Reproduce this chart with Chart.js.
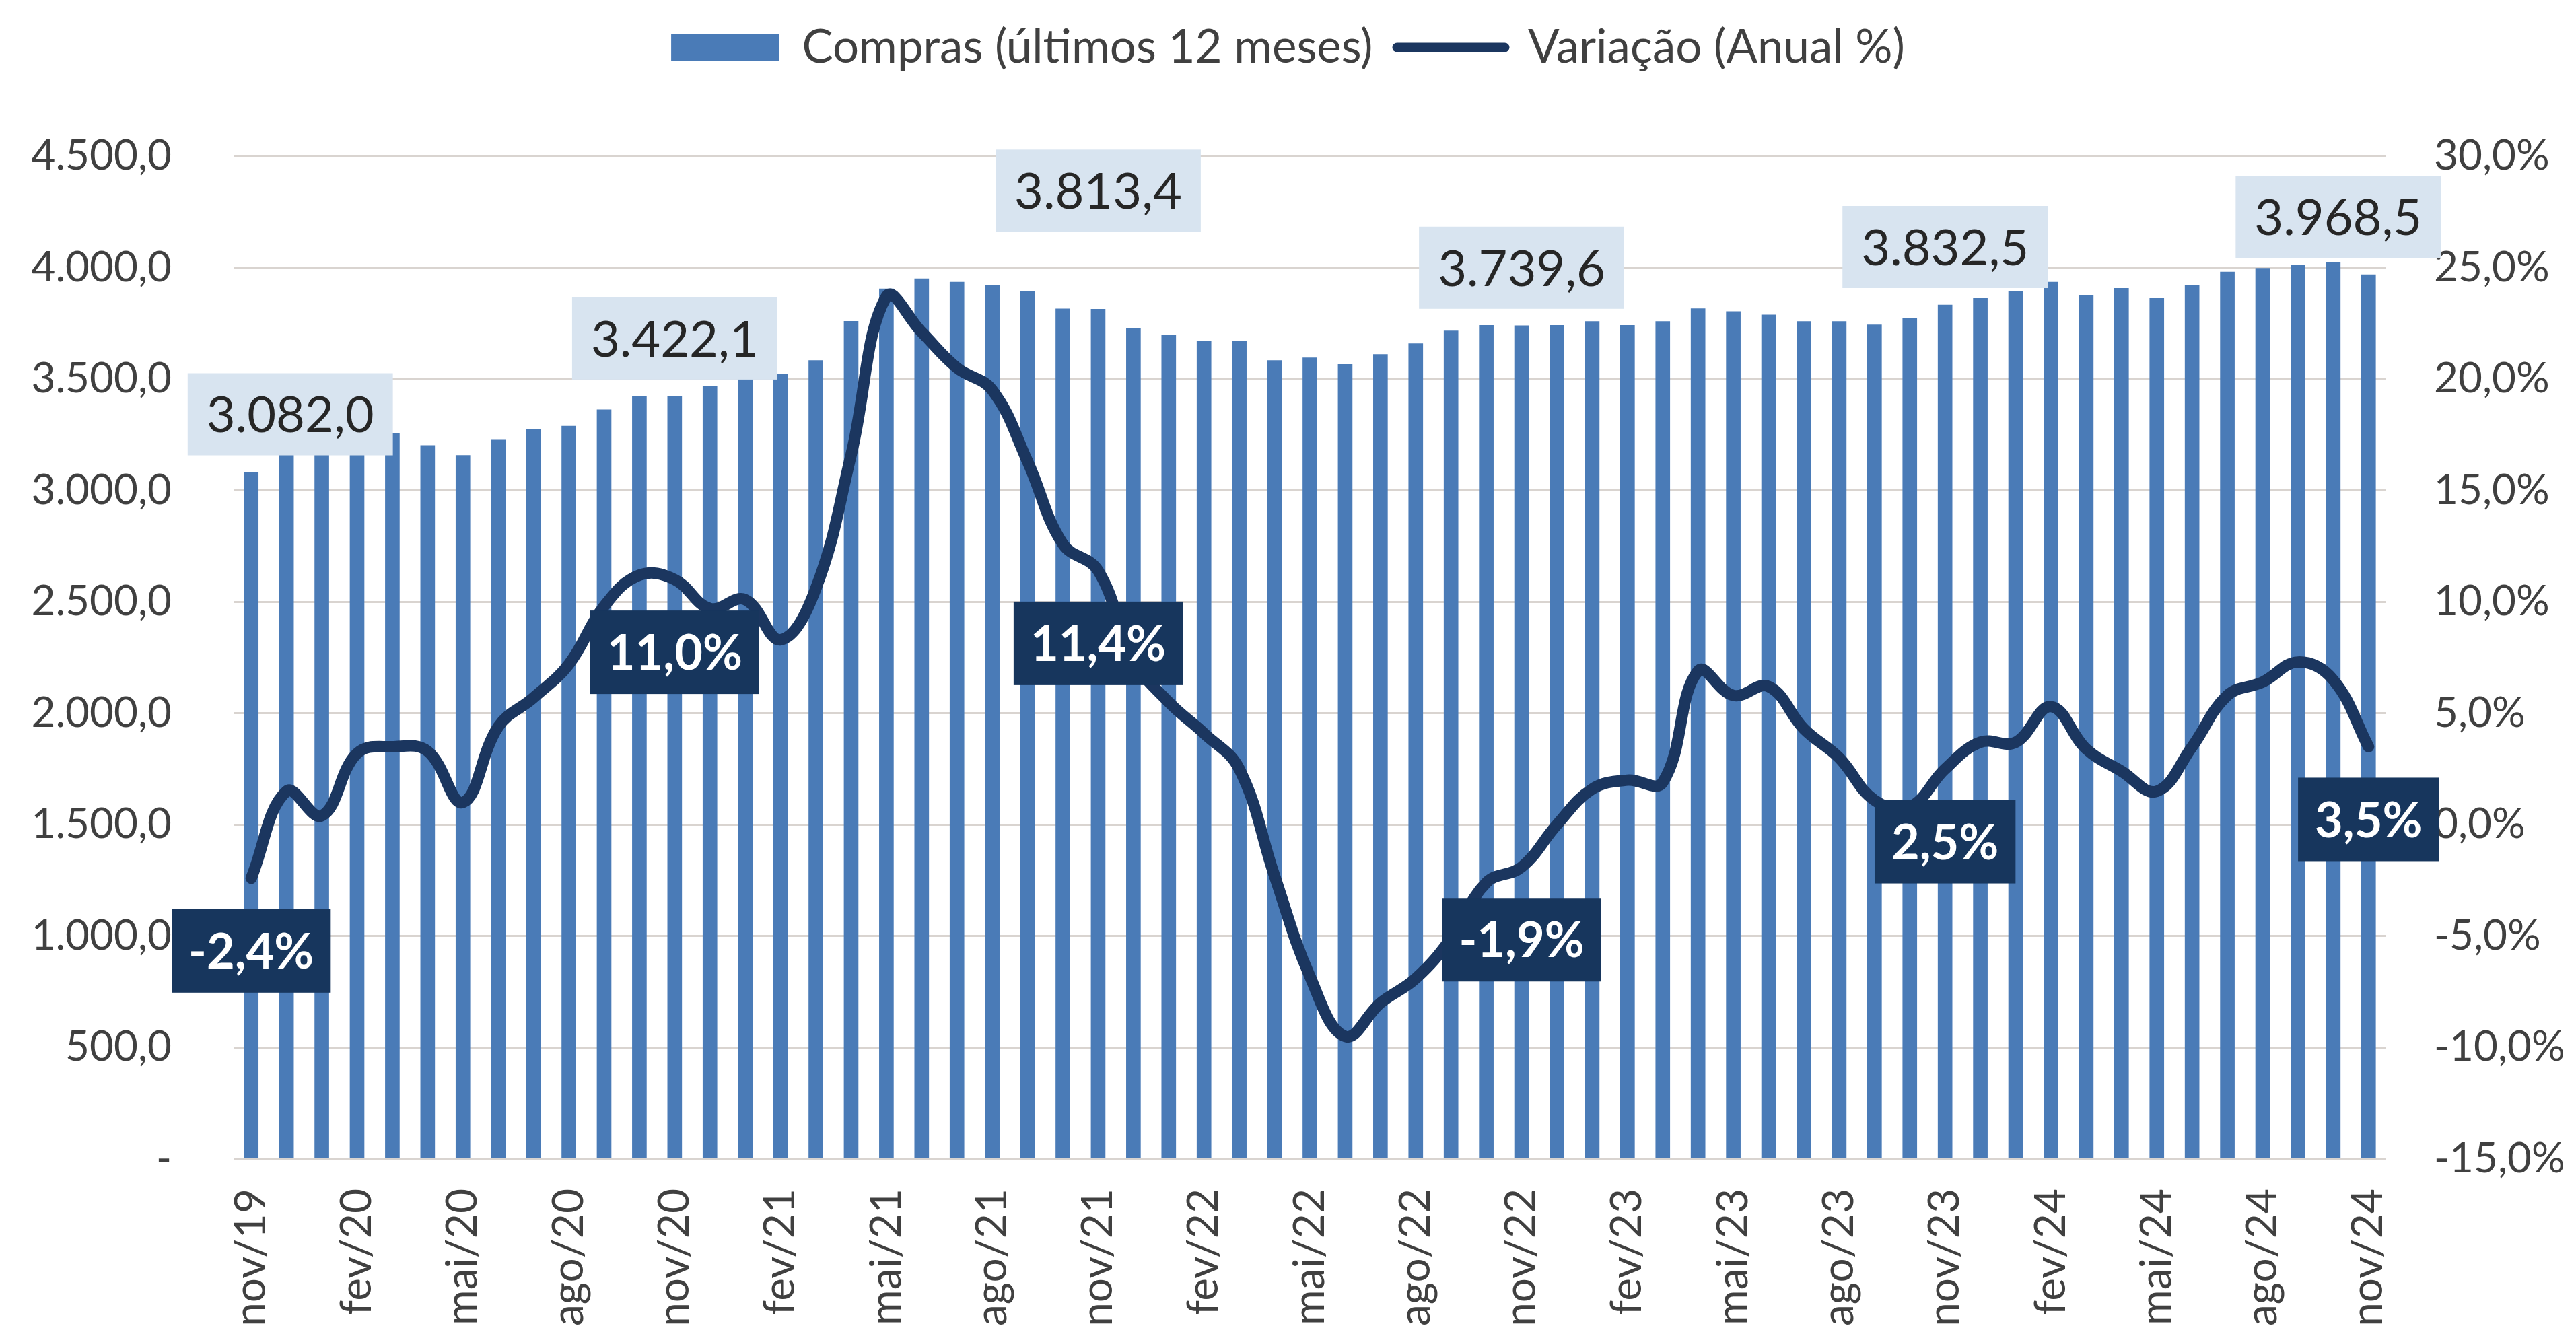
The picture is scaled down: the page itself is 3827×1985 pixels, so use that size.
<!DOCTYPE html>
<html lang="pt-BR">
<head>
<meta charset="utf-8">
<title>Compras (últimos 12 meses)</title>
<script src="https://cdn.jsdelivr.net/npm/chart.js@4.4.1/dist/chart.umd.min.js"></script>
<style>
  html, body { margin: 0; padding: 0; background: #ffffff; }
  #wrap { width: 3827px; height: 1985px; }
</style>
</head>
<body>
<div id="wrap"><canvas id="grafico" width="3827" height="1985"></canvas></div>
<script>
// meses (nov/19 a nov/24)
const meses = [
  'nov/19', 'dez/19',
  'jan/20', 'fev/20', 'mar/20', 'abr/20', 'mai/20', 'jun/20', 'jul/20', 'ago/20', 'set/20', 'out/20', 'nov/20', 'dez/20',
  'jan/21', 'fev/21', 'mar/21', 'abr/21', 'mai/21', 'jun/21', 'jul/21', 'ago/21', 'set/21', 'out/21', 'nov/21', 'dez/21',
  'jan/22', 'fev/22', 'mar/22', 'abr/22', 'mai/22', 'jun/22', 'jul/22', 'ago/22', 'set/22', 'out/22', 'nov/22', 'dez/22',
  'jan/23', 'fev/23', 'mar/23', 'abr/23', 'mai/23', 'jun/23', 'jul/23', 'ago/23', 'set/23', 'out/23', 'nov/23', 'dez/23',
  'jan/24', 'fev/24', 'mar/24', 'abr/24', 'mai/24', 'jun/24', 'jul/24', 'ago/24', 'set/24', 'out/24', 'nov/24'
];

// compras acumuladas em 12 meses
const compras = [
  3082.0, 3200, 3215, 3235, 3257, 3202, 3157, 3229, 3275, 3289, 3362, 3421, 3422.1, 3466,
  3500, 3523, 3583, 3759, 3905, 3950, 3935, 3922, 3892, 3815, 3813.4, 3729,
  3699, 3671, 3671, 3583, 3595, 3566, 3610, 3659, 3716, 3741, 3739.6, 3741,
  3758, 3741, 3758, 3816, 3803, 3788, 3758, 3758, 3743, 3772, 3832.5, 3862,
  3892, 3935, 3877, 3907, 3862, 3920, 3980, 3997, 4012, 4025, 3968.5
];

// variação anual (%)
const variacao = [
  -2.4, 1.5, 0.4, 3.2, 3.5, 3.3, 1.0, 4.4, 5.7, 7.2, 9.8, 11.2, 11.0, 9.7,
  10.1, 8.3, 10.6, 16.6, 23.7, 22.1, 20.5, 19.5, 16.3, 12.6, 11.4, 7.4,
  5.5, 4.1, 2.5, -2.3, -6.8, -9.5, -8.0, -6.9, -5.1, -2.6, -1.9, 0.0,
  1.6, 2.0, 1.9, 6.9, 5.8, 6.2, 4.3, 3.0, 1.1, 0.8, 2.5, 3.7,
  3.7, 5.3, 3.4, 2.4, 1.5, 3.5, 5.8, 6.4, 7.3, 6.5, 3.5
];

// meses com rótulo
const destaques = [0, 12, 24, 36, 48, 60];

const corBarra = '#4A7BB7';
const corLinha = '#1B365F';
const corTexto = '#404040';

// deslocamento manual dos rótulos de compras (px)
const desloc = { 0: { x: 58, y: 0 }, 24: { x: 0, y: 90 }, 60: { x: -45, y: 0 } };

function fmtNum(v) {
  const partes = Math.abs(v).toFixed(1).split('.');
  const inteiro = partes[0].replace(/\B(?=(\d{3})+(?!\d))/g, '.');
  return (v < 0 ? '-' : '') + inteiro + ',' + partes[1];
}
function fmtPct(v) {
  return v.toFixed(1).replace('.', ',') + '%';
}

const rotulos = {
  id: 'rotulos',
  afterDatasetsDraw(chart) {
    const ctx = chart.ctx;
    const barras = chart.getDatasetMeta(0).data;
    const pontos = chart.getDatasetMeta(1).data;
    ctx.save();
    ctx.textAlign = 'center';
    ctx.textBaseline = 'middle';
    destaques.forEach(i => {
      const d = desloc[i] || { x: 0, y: 0 };
      // caixa clara com o valor da compra
      ctx.font = '74px Lato';
      let txt = fmtNum(compras[i]);
      let w = ctx.measureText(txt).width + 56;
      let h = 122;
      let cx = barras[i].x + d.x;
      let base = barras[i].y - 25 - d.y;
      ctx.fillStyle = '#D8E4F0';
      ctx.fillRect(cx - w / 2, base - h, w, h);
      ctx.fillStyle = '#262626';
      ctx.fillText(txt, cx, base - h / 2 + 3);

      // caixa escura com a variação
      ctx.font = 'bold 72px Lato';
      txt = fmtPct(variacao[i]);
      w = ctx.measureText(txt).width + 50;
      h = 124;
      cx = pontos[i].x;
      const cy = pontos[i].y + 108;
      ctx.fillStyle = '#17365D';
      ctx.fillRect(cx - w / 2, cy - h / 2, w, h);
      ctx.fillStyle = '#ffffff';
      ctx.fillText(txt, cx, cy + 3);
    });
    ctx.restore();
  }
};

// legenda com altura fixa para afastar a área do gráfico
const alturaLegenda = {
  id: 'alturaLegenda',
  beforeLayout(chart) {
    const lg = chart.legend;
    if (lg && !lg._alturaFixa) {
      const fitOriginal = lg.fit.bind(lg);
      lg.fit = function () { fitOriginal(); this.height = 232; };
      lg._alturaFixa = true;
    }
  }
};

function desenhar() {
  Chart.defaults.font.family = 'Lato';
  Chart.defaults.color = corTexto;

  new Chart(document.getElementById('grafico'), {
    type: 'bar',
    data: {
      labels: meses,
      datasets: [
        {
          type: 'bar',
          label: 'Compras (últimos 12 meses)',
          data: compras,
          backgroundColor: corBarra,
          barThickness: 21,
          yAxisID: 'y',
          order: 1
        },
        {
          type: 'line',
          label: 'Variação (Anual %)',
          data: variacao,
          borderColor: corLinha,
          backgroundColor: corLinha,
          borderWidth: 17,
          borderCapStyle: 'round',
          borderJoinStyle: 'round',
          pointRadius: 0,
          tension: 0.4,
          yAxisID: 'y1',
          order: 0
        }
      ]
    },
    options: {
      responsive: false,
      animation: false,
      devicePixelRatio: 1,
      layout: { padding: 0 },
      plugins: {
        tooltip: { enabled: false },
        legend: {
          position: 'top',
          labels: {
            usePointStyle: true,
            pointStyleWidth: 160,
            boxHeight: 40,
            padding: 36,
            color: corTexto,
            font: { size: 69 },
            generateLabels(chart) {
              const itens = Chart.defaults.plugins.legend.labels.generateLabels(chart);
              itens.forEach(it => {
                if (it.datasetIndex === 0) {
                  it.pointStyle = 'rect';
                  it.lineWidth = 0;
                } else {
                  it.pointStyle = 'line';
                  it.lineWidth = 14;
                  it.lineCap = 'round';
                  it.strokeStyle = corLinha;
                }
              });
              return itens.sort((a, b) => a.datasetIndex - b.datasetIndex);
            }
          }
        }
      },
      scales: {
        x: {
          grid: { display: false, drawTicks: false },
          border: { display: false },
          ticks: {
            autoSkip: false,
            minRotation: 90,
            maxRotation: 90,
            padding: 44,
            color: corTexto,
            font: { size: 64 },
            callback: (v, i) => (i % 3 === 0 ? meses[i] : '')
          },
          afterFit: s => { s.height = 263; }
        },
        y: {
          position: 'left',
          min: 0,
          max: 4500,
          grid: { color: '#D9D4D0', lineWidth: 3, drawTicks: false },
          border: { display: false },
          ticks: {
            stepSize: 500,
            padding: 92,
            color: corTexto,
            font: { size: 62 },
            callback: v => (v === 0 ? '-' : fmtNum(v))
          },
          afterFit: s => { s.width = 347; }
        },
        y1: {
          position: 'right',
          min: -15,
          max: 30,
          grid: { display: false, drawTicks: false },
          border: { display: false },
          ticks: {
            stepSize: 5,
            padding: 71,
            color: corTexto,
            font: { size: 62 },
            callback: v => fmtPct(v)
          },
          afterFit: s => { s.width = 282; }
        }
      }
    },
    plugins: [alturaLegenda, rotulos]
  });
}

document.fonts.load('62px Lato').then(desenhar, desenhar);
</script>
</body>
</html>
